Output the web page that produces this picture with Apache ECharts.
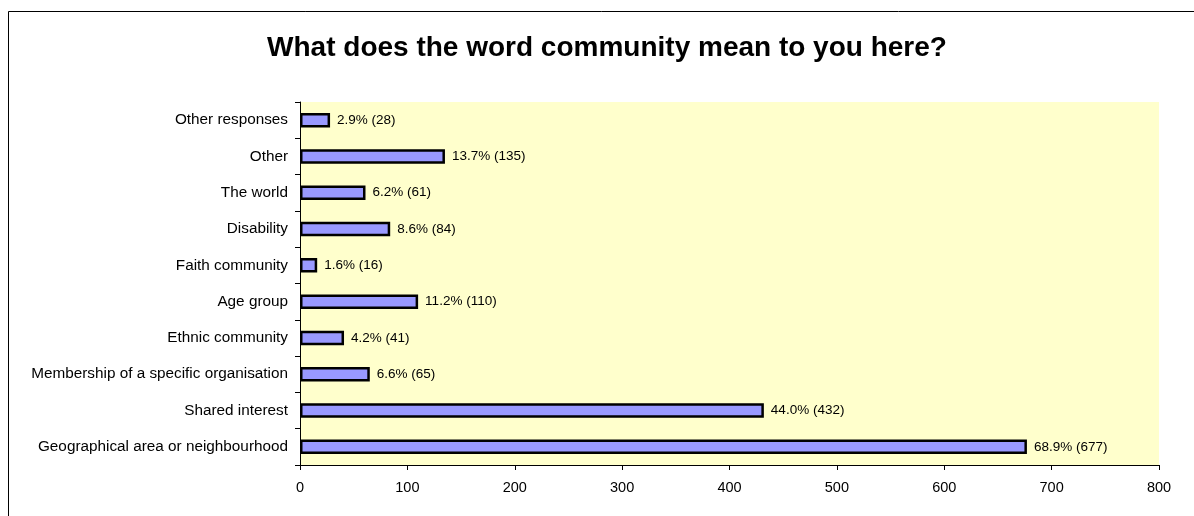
<!DOCTYPE html>
<html>
<head>
<meta charset="utf-8">
<script src="https://cdn.jsdelivr.net/npm/echarts@6/dist/echarts.min.js"></script>
<style>
  html, body { margin: 0; padding: 0; background: #ffffff; }
  #chart { width: 1194px; height: 516px; }
</style>
</head>
<body>
<div id="chart"></div>
<script>
// Responses, listed bottom to top as drawn on the category axis
const categories = [
  'Geographical area or neighbourhood',
  'Shared interest',
  'Membership of a specific organisation',
  'Ethnic community',
  'Age group',
  'Faith community',
  'Disability',
  'The world',
  'Other',
  'Other responses'
];
const counts = [677, 432, 65, 41, 110, 16, 84, 61, 135, 28];
const percents = ['68.9', '44.0', '6.6', '4.2', '11.2', '1.6', '8.6', '6.2', '13.7', '2.9'];
const xTicks = [0, 100, 200, 300, 400, 500, 600, 700, 800];

const FONT = '"Liberation Sans", Arial, sans-serif';
const chart = echarts.init(document.getElementById('chart'));

chart.setOption({
  animation: false,
  backgroundColor: '#ffffff',
  title: {
    text: 'What does the word community mean to you here?',
    left: 602,
    textAlign: 'center',
    top: 29,
    textStyle: { fontFamily: FONT, fontSize: 28, fontWeight: 'bold', color: '#000000' }
  },
  graphic: [{
    type: 'rect',
    shape: { x: 8.5, y: 11.5, width: 1300, height: 700 },
    style: { fill: 'none', stroke: '#000000', lineWidth: 1 },
    silent: true,
    z: -1
  }],
  grid: {
    left: 300,
    top: 102,
    right: 35,
    bottom: 51,
    show: true,
    backgroundColor: '#FFFFCC',
    borderWidth: 0
  },
  xAxis: {
    type: 'value',
    min: xTicks[0],
    max: xTicks[xTicks.length - 1],
    interval: 100,
    axisLine: { show: true, lineStyle: { color: '#000000', width: 1 } },
    axisTick: { show: true, length: 5, lineStyle: { color: '#000000' } },
    splitLine: { show: false },
    axisLabel: { fontFamily: FONT, fontSize: 14.5, color: '#000000', margin: 15 }
  },
  yAxis: {
    type: 'category',
    data: categories,
    axisLine: { show: true, lineStyle: { color: '#000000', width: 1 } },
    axisTick: { show: true, length: 5, alignWithLabel: false, lineStyle: { color: '#000000' } },
    axisLabel: { fontFamily: FONT, fontSize: 15.3, color: '#000000', margin: 12 }
  },
  series: [{
    type: 'bar',
    data: counts,
    barWidth: '40%',
    itemStyle: { color: '#9999FF', borderColor: '#000000', borderWidth: 2.5 },
    label: {
      show: true,
      position: 'right',
      distance: 7,
      fontFamily: FONT,
      fontSize: 13.5,
      color: '#000000',
      formatter: p => percents[p.dataIndex] + '% (' + counts[p.dataIndex] + ')'
    }
  }]
});
</script>
</body>
</html>
